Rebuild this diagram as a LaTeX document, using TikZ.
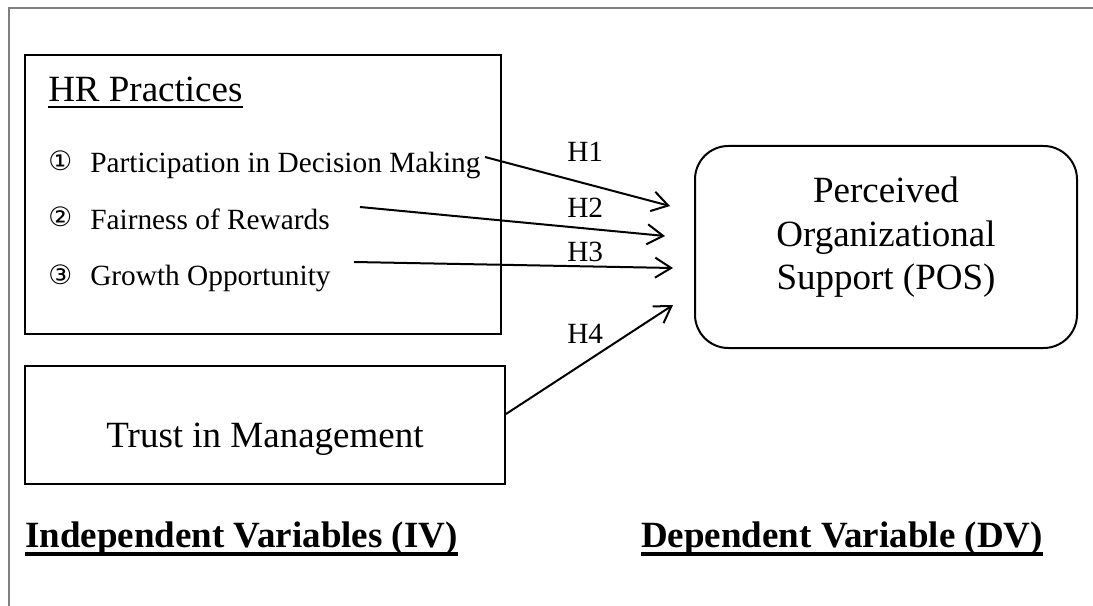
\documentclass[tikz,border=0pt]{standalone}
\usepackage{fontspec}
\setmainfont{Liberation Serif}
\newfontfamily\symfont{DejaVu Sans}
\usetikzlibrary{arrows.meta}
\begin{document}
\begin{tikzpicture}[x=0.75pt,y=-0.75pt,
  box/.style={draw, line width=1.5pt, inner sep=0pt},
  big/.style={font=\fontsize{27.75pt}{33pt}\selectfont, inner sep=0pt},
  bigb/.style={font=\fontsize{27.75pt}{33pt}\selectfont\bfseries, inner sep=0pt},
  item/.style={font=\fontsize{22pt}{26pt}\selectfont, inner sep=0pt, anchor=base west},
  num/.style={font=\symfont\fontsize{20pt}{24pt}\selectfont, inner sep=0pt, anchor=base west},
  hlab/.style={font=\fontsize{22pt}{26pt}\selectfont, inner sep=0pt, anchor=base west},
  arr/.style={-{Straight Barb[length=12pt,width=15pt]}, line width=1.5pt},
  frame/.style={draw=black!50, line width=1.1pt}]
\useasboundingbox (0,0) rectangle (1093,606);
% outer frame
\coordinate (ftl) at (9,8);
\coordinate (ftr) at (1093,8);
\coordinate (fbl) at (9,606);
\draw[frame] (ftr) -- (ftl) -- (fbl);
% boxes
\node[box, minimum width=357pt, minimum height=209.25pt] (hr) at (263,194.5) {};
\node[box, minimum width=360pt, minimum height=88.5pt] (trust) at (265,425) {};
\node[box, rounded corners=25pt, minimum width=286.5pt, minimum height=151.5pt] (pos) at (886,247) {};
% HR box text
\node[big, anchor=base west] (hrt) at (48,102) {HR Practices};
\draw[line width=1.3pt] ([yshift=-4pt]hrt.base west) -- ([yshift=-4pt]hrt.base east);
\node[num] (n1) at (48,171) {①};
\node[item] (i1) at (90,173) {Participation in Decision Making};
\node[num] (n2) at (48,227) {②};
\node[item] (i2) at (90,229) {Fairness of Rewards};
\node[num] (n3) at (48,284) {③};
\node[item] (i3) at (90,286) {Growth Opportunity};
% trust text
\node[big, anchor=base] (tt) at (265,447) {Trust in Management};
% POS text
\node[big, anchor=base] (p1) at (886,203) {Perceived};
\node[big, anchor=base] (p2) at (886,246.5) {Organizational};
\node[big, anchor=base] (p3) at (886,290) {Support (POS)};
% arrows
\coordinate (s1) at (485,157); \coordinate (e1) at (670,206);
\coordinate (s2) at (360,207); \coordinate (e2) at (665,236);
\coordinate (s3) at (354,262); \coordinate (e3) at (673,268);
\coordinate (s4) at (trust.east |- 0,414); \coordinate (e4) at (673,305);
\draw[arr] (s1) -- (e1);
\draw[arr] (s2) -- (e2);
\draw[arr] (s3) -- (e3);
\draw[arr] (s4) -- (e4);
\node[hlab] (h1) at (567,162) {H1};
\node[hlab] (h2) at (567,218) {H2};
\node[hlab] (h3) at (567,262) {H3};
\node[hlab] (h4) at (567,343) {H4};
% bottom captions
\node[bigb, anchor=base west] (iv) at (25,547) {Independent Variables (IV)};
\draw[line width=3pt] ([yshift=-5.25pt]iv.base west) -- ([yshift=-5.25pt]iv.base east);
\node[bigb, anchor=base west] (dv) at (641,547) {Dependent Variable (DV)};
\draw[line width=3pt] ([yshift=-5.25pt]dv.base west) -- ([yshift=-5.25pt]dv.base east);
\end{tikzpicture}
\end{document}
